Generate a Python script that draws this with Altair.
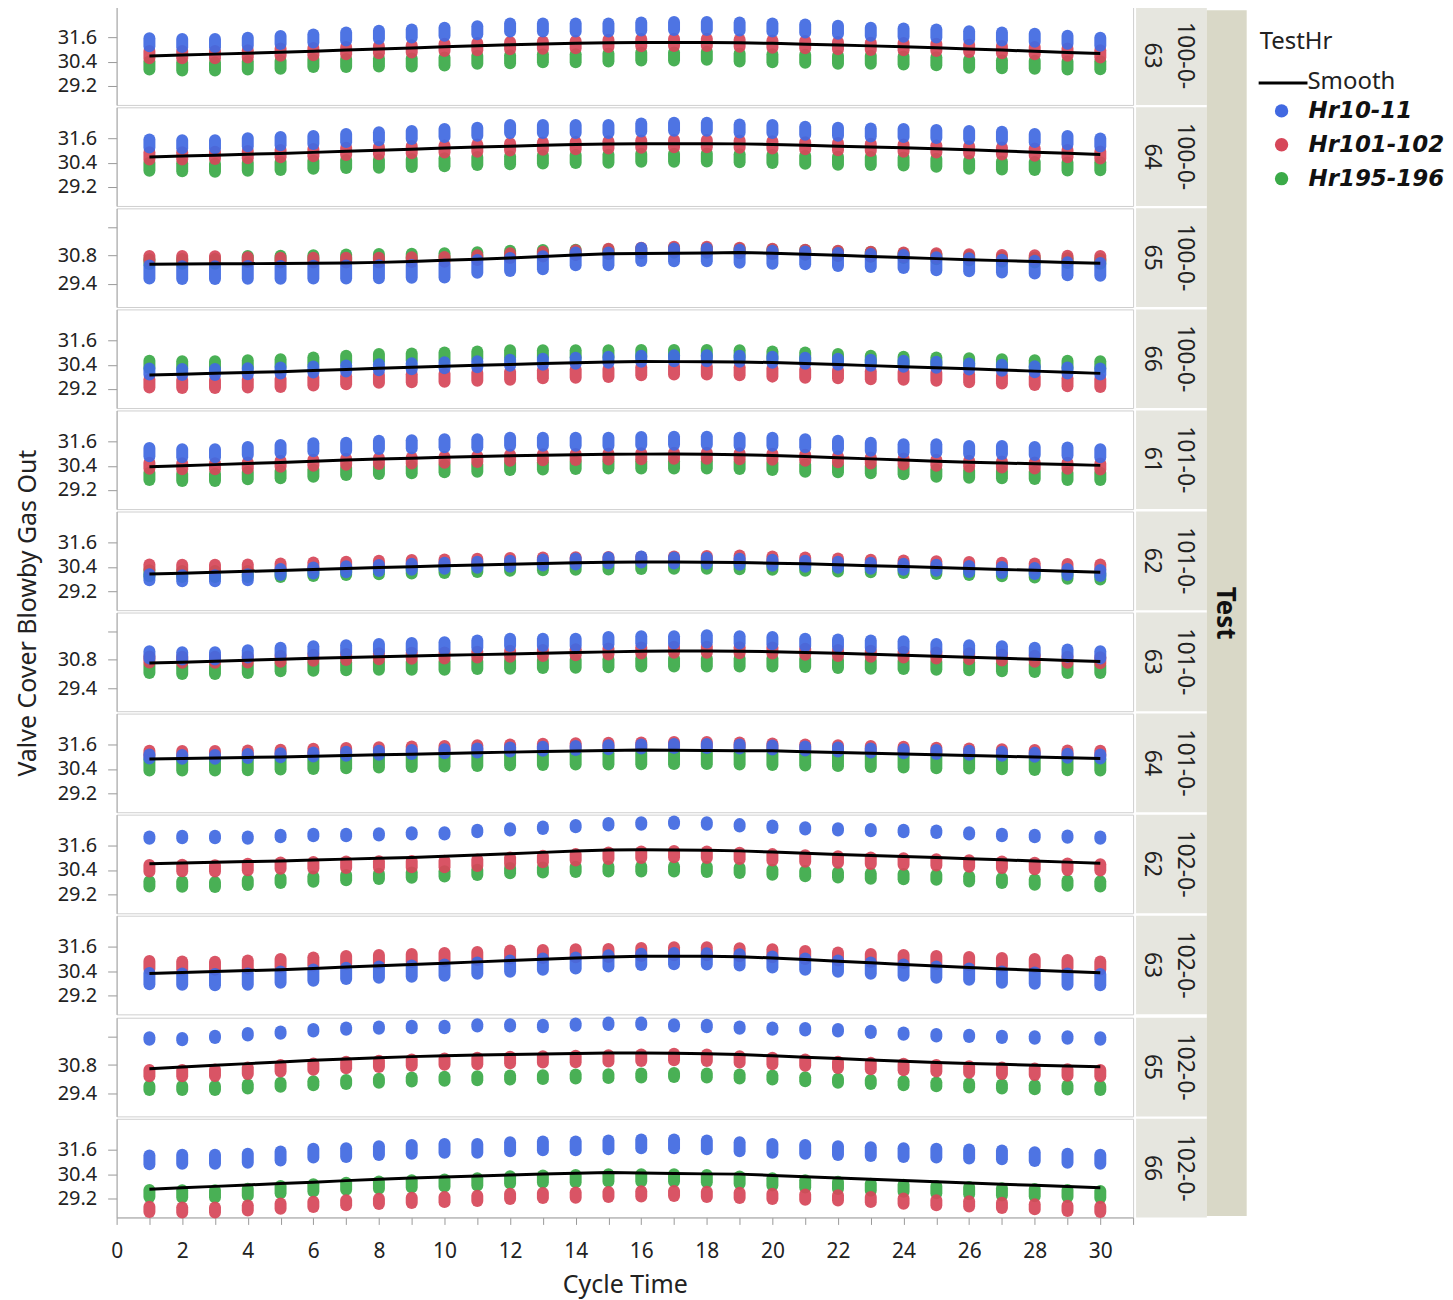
import altair as alt
import pandas as pd

FONT = "Noto Sans"
LEG_FONT = "DejaVu Sans"

tests = ["100-0-63", "100-0-64", "100-0-65", "100-0-66", "101-0-61", "101-0-62",
         "101-0-63", "101-0-64", "102-0-62", "102-0-63", "102-0-65", "102-0-66"]
groups = ["Hr10-11", "Hr101-102", "Hr195-196"]
group_colors = ["#4169E1", "#D64759", "#3BAA48"]
cycle_time = list(range(1, 31))
x_ticks = list(range(0, 32))
y_ticks_a = [29.2, 30.4, 31.6]
y_ticks_b = [29.4, 30.8, 32.2]
y_ticks_b_tests = ["100-0-65", "101-0-63", "102-0-65"]
legend_title = "TestHr"
smooth_label = "Smooth"
y_title = "Valve Cover Blowby Gas Out"
x_title = "Cycle Time"
facet_title = "Test"

# centre of each stack of points, per test and TestHr group (cycle 1..30)
hr10_100_0_63 = [31.36,31.32,31.32,31.39,31.47,31.55,31.65,31.73,31.80,31.88,31.96,32.09,32.09,32.09,32.09,32.14,32.17,32.17,32.14,32.09,32.04,31.98,31.88,31.84,31.80,31.71,31.65,31.58,31.49,31.39]
hr101_100_0_63 = [30.75,30.75,30.75,30.78,30.87,30.90,30.95,31.00,31.03,31.11,31.14,31.19,31.22,31.24,31.31,31.34,31.36,31.36,31.32,31.27,31.24,31.19,31.16,31.14,31.11,31.06,31.00,30.95,30.87,30.78]
hr195_100_0_63 = [30.21,30.16,30.16,30.21,30.24,30.33,30.33,30.36,30.36,30.41,30.49,30.52,30.57,30.57,30.60,30.65,30.65,30.69,30.60,30.57,30.54,30.49,30.49,30.46,30.42,30.30,30.27,30.24,30.21,30.22]

hr10_100_0_64 = [31.35,31.32,31.32,31.42,31.47,31.53,31.62,31.71,31.78,31.87,31.94,32.07,32.07,32.07,32.07,32.15,32.18,32.18,32.10,32.07,31.99,31.94,31.90,31.87,31.82,31.78,31.74,31.62,31.52,31.40]
hr101_100_0_64 = [30.74,30.74,30.76,30.80,30.85,30.90,30.96,31.00,31.05,31.08,31.12,31.18,31.22,31.25,31.28,31.32,31.35,31.35,31.32,31.28,31.24,31.20,31.16,31.12,31.08,31.04,30.98,30.92,30.85,30.78]
hr195_100_0_64 = [30.20,30.17,30.15,30.20,30.24,30.30,30.33,30.35,30.38,30.42,30.48,30.52,30.56,30.58,30.60,30.64,30.64,30.66,30.62,30.58,30.54,30.50,30.48,30.46,30.40,30.30,30.26,30.24,30.21,30.22]

hr10_100_0_65 = [29.99,29.96,29.96,29.97,29.97,29.98,29.99,30.00,30.02,30.04,30.27,30.36,30.45,30.64,30.64,30.86,30.84,30.84,30.77,30.72,30.69,30.61,30.56,30.51,30.40,30.35,30.28,30.23,30.15,30.12]
hr101_100_0_65 = [30.67,30.67,30.65,30.60,30.58,30.58,30.58,30.58,30.60,30.62,30.70,30.80,30.88,30.95,31.02,31.08,31.12,31.12,31.08,31.02,30.98,30.92,30.88,30.84,30.80,30.75,30.72,30.70,30.68,30.67]
hr195_100_0_65 = [30.50,30.52,30.52,30.66,30.68,30.70,30.74,30.76,30.78,30.80,30.85,30.92,30.96,30.98,31.00,31.04,31.06,31.06,31.04,31.00,30.96,30.90,30.86,30.80,30.74,30.68,30.62,30.58,30.55,30.52]

hr10_100_0_66 = [30.06,30.04,30.04,30.08,30.12,30.17,30.22,30.28,30.33,30.38,30.43,30.50,30.55,30.60,30.65,30.70,30.72,30.72,30.70,30.65,30.60,30.55,30.50,30.45,30.40,30.32,30.25,30.18,30.12,30.06]
hr101_100_0_66 = [29.47,29.44,29.44,29.47,29.50,29.57,29.63,29.70,29.73,29.76,29.80,29.86,29.93,29.96,29.99,30.08,30.11,30.11,30.08,30.01,29.96,29.93,29.88,29.85,29.80,29.73,29.67,29.60,29.53,29.49]
hr195_100_0_66 = [30.42,30.39,30.39,30.45,30.50,30.58,30.67,30.75,30.78,30.83,30.88,30.94,30.94,30.94,30.94,30.96,30.96,30.96,30.94,30.88,30.83,30.75,30.67,30.62,30.58,30.55,30.50,30.45,30.42,30.39]

hr10_101_0_61 = [31.08,31.03,31.03,31.14,31.24,31.32,31.35,31.44,31.47,31.52,31.52,31.60,31.60,31.60,31.60,31.63,31.65,31.65,31.60,31.60,31.52,31.44,31.35,31.27,31.27,31.19,31.19,31.14,31.11,31.03]
hr101_101_0_61 = [30.40,30.38,30.38,30.42,30.50,30.55,30.60,30.64,30.67,30.70,30.74,30.80,30.82,30.84,30.86,30.88,30.90,30.90,30.88,30.85,30.80,30.72,30.67,30.62,30.55,30.50,30.46,30.42,30.40,30.37]
hr195_101_0_61 = [29.88,29.83,29.83,29.91,29.96,30.04,30.12,30.17,30.21,30.26,30.29,30.37,30.40,30.42,30.45,30.45,30.45,30.45,30.42,30.37,30.29,30.26,30.21,30.16,30.04,29.99,29.96,29.93,29.88,29.88]

hr10_101_0_62 = [29.88,29.84,29.84,29.88,30.15,30.22,30.28,30.34,30.40,30.45,30.50,30.56,30.62,30.67,30.72,30.76,30.72,30.70,30.66,30.60,30.55,30.50,30.45,30.40,30.35,30.30,30.25,30.20,30.15,30.10]
hr101_101_0_62 = [30.40,30.38,30.38,30.40,30.45,30.50,30.54,30.58,30.62,30.65,30.68,30.72,30.74,30.76,30.77,30.78,30.80,30.82,30.84,30.80,30.75,30.70,30.64,30.60,30.56,30.52,30.48,30.45,30.42,30.40]
hr195_101_0_62 = [30.08,30.05,30.05,30.05,30.05,30.10,30.15,30.18,30.22,30.25,30.30,30.35,30.38,30.40,30.42,30.44,30.45,30.45,30.43,30.40,30.36,30.32,30.28,30.24,30.20,30.15,30.08,30.02,29.96,29.92]

hr10_101_0_63 = [31.05,31.00,31.00,31.10,31.22,31.30,31.35,31.41,31.46,31.49,31.58,31.67,31.67,31.67,31.76,31.79,31.79,31.84,31.79,31.76,31.67,31.63,31.58,31.54,31.41,31.35,31.30,31.22,31.13,31.05]
hr101_101_0_63 = [30.82,30.80,30.80,30.82,30.86,30.90,30.94,30.98,31.00,31.02,31.06,31.10,31.14,31.18,31.22,31.26,31.30,31.30,31.28,31.26,31.20,31.14,31.10,31.06,31.02,30.98,30.92,30.86,30.80,30.78]
hr195_101_0_63 = [30.35,30.30,30.30,30.35,30.43,30.46,30.48,30.51,30.51,30.51,30.54,30.56,30.59,30.61,30.63,30.67,30.67,30.67,30.67,30.67,30.64,30.59,30.56,30.54,30.51,30.48,30.43,30.40,30.35,30.35]

hr10_101_0_64 = [31.02,31.00,31.00,31.04,31.08,31.12,31.16,31.20,31.24,31.28,31.32,31.37,31.40,31.44,31.48,31.52,31.54,31.54,31.52,31.47,31.42,31.37,31.32,31.28,31.24,31.20,31.16,31.10,31.06,31.02]
hr101_101_0_64 = [31.18,31.17,31.17,31.20,31.24,31.28,31.32,31.36,31.40,31.42,31.46,31.50,31.53,31.56,31.58,31.60,31.62,31.62,31.60,31.55,31.50,31.46,31.42,31.38,31.34,31.30,31.26,31.22,31.20,31.18]
hr195_101_0_64 = [30.60,30.60,30.60,30.62,30.65,30.68,30.72,30.75,30.78,30.80,30.83,30.86,30.88,30.90,30.90,30.91,30.92,30.92,30.90,30.88,30.85,30.82,30.78,30.75,30.72,30.70,30.66,30.63,30.61,30.60]

hr10_102_0_62 = [32.01,32.04,32.04,32.01,32.09,32.14,32.14,32.17,32.22,32.22,32.34,32.42,32.50,32.58,32.67,32.71,32.75,32.71,32.62,32.55,32.47,32.42,32.38,32.34,32.30,32.22,32.14,32.09,32.06,32.01]
hr101_102_0_62 = [30.49,30.50,30.48,30.55,30.62,30.64,30.66,30.68,30.69,30.70,30.76,30.86,30.95,31.03,31.11,31.16,31.19,31.16,31.10,31.03,30.97,30.92,30.86,30.82,30.78,30.72,30.66,30.60,30.56,30.53]
hr195_102_0_62 = [29.71,29.70,29.68,29.78,29.88,29.95,30.02,30.08,30.15,30.21,30.28,30.37,30.40,30.43,30.45,30.45,30.45,30.43,30.38,30.29,30.22,30.16,30.10,30.07,30.04,29.96,29.88,29.80,29.75,29.71]

hr10_102_0_63 = [30.02,30.00,29.98,30.00,30.10,30.20,30.28,30.35,30.40,30.45,30.55,30.65,30.75,30.80,30.90,30.98,31.02,31.00,30.95,30.85,30.75,30.65,30.55,30.45,30.35,30.25,30.10,30.05,30.00,29.98]
hr101_102_0_63 = [30.70,30.68,30.66,30.72,30.80,30.88,30.95,31.00,31.05,31.10,31.15,31.22,31.25,31.28,31.30,31.35,31.38,31.38,31.33,31.28,31.20,31.12,31.05,31.00,30.95,30.90,30.85,30.80,30.75,30.68]
hr195_102_0_63 = []

hr10_102_0_65 = [32.12,32.09,32.20,32.33,32.41,32.53,32.61,32.66,32.69,32.69,32.77,32.77,32.74,32.81,32.85,32.85,32.77,32.74,32.66,32.61,32.58,32.53,32.45,32.36,32.28,32.25,32.20,32.17,32.17,32.12]
hr101_102_0_65 = [30.40,30.40,30.42,30.52,30.64,30.72,30.80,30.86,30.92,30.97,31.00,31.05,31.08,31.10,31.13,31.16,31.20,31.16,31.08,31.00,30.92,30.81,30.75,30.70,30.64,30.58,30.52,30.47,30.43,30.40]
hr195_102_0_65 = [29.66,29.66,29.66,29.74,29.82,29.90,29.96,30.02,30.08,30.12,30.15,30.18,30.20,30.23,30.25,30.28,30.31,30.28,30.23,30.18,30.10,30.02,29.96,29.90,29.84,29.78,29.74,29.70,29.68,29.66]

hr10_102_0_66 = [31.11,31.14,31.14,31.19,31.30,31.44,31.47,31.57,31.63,31.68,31.68,31.76,31.80,31.80,31.85,31.90,31.90,31.85,31.76,31.68,31.63,31.57,31.52,31.47,31.44,31.40,31.36,31.27,31.19,31.14]
hr101_102_0_66 = [28.65,28.62,28.62,28.72,28.81,28.90,28.98,29.05,29.10,29.14,29.20,29.30,29.34,29.36,29.39,29.42,29.44,29.40,29.35,29.30,29.26,29.22,29.14,29.06,28.98,28.92,28.85,28.78,28.70,28.65]
hr195_102_0_66 = [29.44,29.42,29.42,29.50,29.63,29.72,29.80,29.86,29.92,29.96,30.02,30.12,30.16,30.18,30.21,30.22,30.21,30.18,30.10,30.02,29.92,29.84,29.75,29.70,29.63,29.58,29.52,29.48,29.44,29.39]

# half vertical extent of each stack of repeated measurements, one per test
hr10_span = [0.20, 0.20, 0.32, 0.15, 0.20, 0.15, 0.18, 0.10, 0.06, 0.28, 0.06, 0.22]
hr101_span = [0.18, 0.18, 0.12, 0.20, 0.15, 0.12, 0.15, 0.12, 0.16, 0.20, 0.16, 0.13]
hr195_span = [0.20, 0.20, 0.12, 0.18, 0.18, 0.15, 0.20, 0.28, 0.13, 0.00, 0.10, 0.18]

hr10_all = [hr10_100_0_63, hr10_100_0_64, hr10_100_0_65, hr10_100_0_66, hr10_101_0_61, hr10_101_0_62,
            hr10_101_0_63, hr10_101_0_64, hr10_102_0_62, hr10_102_0_63, hr10_102_0_65, hr10_102_0_66]
hr101_all = [hr101_100_0_63, hr101_100_0_64, hr101_100_0_65, hr101_100_0_66, hr101_101_0_61, hr101_101_0_62,
             hr101_101_0_63, hr101_101_0_64, hr101_102_0_62, hr101_102_0_63, hr101_102_0_65, hr101_102_0_66]
hr195_all = [hr195_100_0_63, hr195_100_0_64, hr195_100_0_65, hr195_100_0_66, hr195_101_0_61, hr195_101_0_62,
             hr195_101_0_63, hr195_101_0_64, hr195_102_0_62, hr195_102_0_63, hr195_102_0_65, hr195_102_0_66]

# long table; green first, then red, then blue (blue drawn on top)
records = []
for i, t in enumerate(tests):
    for g, vals, span in [("Hr195-196", hr195_all[i], hr195_span[i]),
                          ("Hr101-102", hr101_all[i], hr101_span[i]),
                          ("Hr10-11", hr10_all[i], hr10_span[i])]:
        for x, c in zip(cycle_time, vals):
            records.append({"Test": t, "Group": g, "Cycle": x, "c": c,
                            "lo": c - span, "hi": c + span})
df = pd.DataFrame(records)

Y_DOMAIN = [28.25, 33.15]
X_DOMAIN = [0, 31]
PW, PH = 1020, 99
ROW_GAP = 0.4
TXT = "#222222"

color_scale = alt.Scale(domain=groups, range=group_colors)

rows = []
for i, t in enumerate(tests):
    alt_ticks = t in y_ticks_b_tests
    yaxis = alt.Axis(values=y_ticks_b if alt_ticks else y_ticks_a,
                     labelExpr="datum.value > 32 ? '' : datum.label",
                     title=None, grid=False, tickSize=9, labelPadding=11,
                     labelFontSize=20, labelColor=TXT, labelFont=FONT,
                     tickColor="#9a9a9a", domainColor="#a8a8a8", format=".1f")
    last = i == len(tests) - 1
    if last:
        xaxis = alt.Axis(values=x_ticks, labelExpr="datum.value % 2 == 0 ? datum.label : ''",
                         title=x_title, grid=False, tickSize=7, labelPadding=16,
                         labelFontSize=21, labelColor=TXT, labelFont=FONT, labelFlush=False,
                         titleFontSize=25, titleFontWeight="normal", titleColor=TXT,
                         titleFont=FONT, titlePadding=11,
                         tickColor="#9a9a9a", domainColor="#a8a8a8")
    else:
        xaxis = None
    xenc = alt.X("Cycle:Q", scale=alt.Scale(domain=X_DOMAIN, nice=False, zero=False), axis=xaxis)
    yscale = alt.Scale(domain=Y_DOMAIN, nice=False, zero=False)
    base = alt.Chart(df).transform_filter(alt.datum.Test == t)
    dots = base.mark_rule(strokeWidth=12, strokeCap="round", opacity=0.93).encode(
        x=xenc,
        y=alt.Y("lo:Q", scale=yscale, axis=yaxis),
        y2="hi:Q",
        color=alt.Color("Group:N", scale=color_scale, legend=None),
    )
    smooth = base.transform_aggregate(m="mean(c)", groupby=["Cycle"]).transform_loess(
        "Cycle", "m", bandwidth=0.3
    ).mark_line(color="black", strokeWidth=3).encode(
        x=xenc,
        y=alt.Y("m:Q", scale=yscale, axis=yaxis),
    )
    panel = alt.layer(dots, smooth).properties(
        width=PW, height=PH,
        view=alt.ViewBackground(stroke="#cfcfcf", fill="white"))

    strip_df = pd.DataFrame({"lbl": [t[:6] + "\n" + t[6:]]})
    strip = alt.Chart(strip_df).mark_text(
        angle=90, lineBreak="\n", fontSize=23, font=FONT, color=TXT,
        lineHeight=33, align="center", baseline="middle"
    ).encode(text="lbl:N", x=alt.value(49), y=alt.value(PH / 2)).properties(
        width=71, height=PH, view=alt.ViewBackground(fill="#e6e6df", stroke=None))
    rows.append(alt.hconcat(panel, strip, spacing=2))

rows_block = alt.vconcat(*rows, spacing=ROW_GAP)
TOTAL_H = 1210
BAND_TOP = 4

ytitle = alt.Chart(pd.DataFrame({"t": [y_title]})).mark_text(
    angle=270, fontSize=25, font=FONT, color=TXT, align="center", baseline="middle"
).encode(text="t:N", x=alt.value(20), y=alt.value(BAND_TOP + TOTAL_H / 2)).properties(
    width=48, height=TOTAL_H, view=alt.ViewBackground(stroke=None))

band_df = pd.DataFrame({"t": [facet_title]})
band_fill = alt.Chart(band_df).mark_rect(color="#d9d8c7").encode(
    x=alt.value(0), x2=alt.value(40), y=alt.value(BAND_TOP), y2=alt.value(BAND_TOP + TOTAL_H))
band_text = alt.Chart(band_df).mark_text(
    angle=90, fontSize=26, font=FONT, fontWeight="bold", color="#111111",
    align="center", baseline="middle"
).encode(text="t:N", x=alt.value(18), y=alt.value(BAND_TOP + TOTAL_H / 2))
band = alt.layer(band_fill, band_text).properties(
    width=40, height=TOTAL_H, view=alt.ViewBackground(stroke=None))

leg_df = pd.DataFrame({"Group": groups})
leg_y = alt.Y("Group:N", sort=groups, axis=None,
              scale=alt.Scale(type="point", range=[105, 173], padding=0))
leg_points = alt.Chart(leg_df).mark_circle(size=180, opacity=1).encode(
    x=alt.value(35), y=leg_y, color=alt.Color("Group:N", scale=color_scale, legend=None))
leg_labels = alt.Chart(leg_df).mark_text(
    align="left", baseline="middle", fontSize=23, fontWeight="bold", fontStyle="italic",
    font=LEG_FONT, color="#111111").encode(x=alt.value(62), y=leg_y, text="Group:N")
leg_title = alt.Chart(pd.DataFrame({"t": [legend_title]})).mark_text(
    align="left", baseline="middle", fontSize=24, font=FONT, color=TXT
).encode(x=alt.value(13), y=alt.value(36), text="t:N")
leg_line = alt.Chart(pd.DataFrame({"t": [smooth_label]})).mark_rule(
    color="black", strokeWidth=3).encode(x=alt.value(12), x2=alt.value(61), y=alt.value(77))
leg_smooth = alt.Chart(pd.DataFrame({"t": [smooth_label]})).mark_text(
    align="left", baseline="middle", fontSize=24, font=FONT, color=TXT
).encode(x=alt.value(61), y=alt.value(76), text="t:N")
legend = alt.layer(leg_title, leg_line, leg_smooth, leg_points, leg_labels).properties(
    width=195, height=200, view=alt.ViewBackground(stroke=None))

chart = alt.hconcat(ytitle, rows_block, band, legend, spacing=0).properties(
    padding={"top": -5, "left": 0, "right": 0, "bottom": 0}
).configure(font=FONT).configure_view(stroke="#cfcfcf")

chart.save("out.html", embed_options={"renderer": "svg", "actions": False})
